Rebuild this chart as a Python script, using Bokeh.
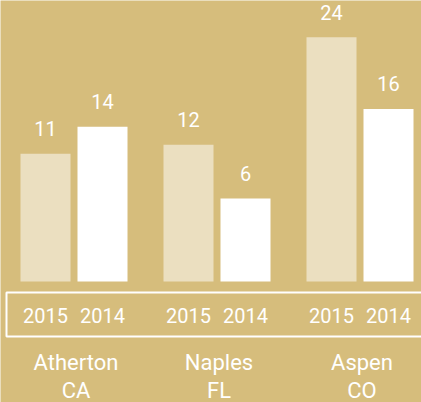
from bokeh.plotting import figure
from bokeh.models import Range1d
from bokeh.core.properties import value
from bokeh.embed import file_html
from bokeh.resources import INLINE

cities = ["Atherton", "Naples", "Aspen"]
states = ["CA", "FL", "CO"]
years = ["2015", "2014"]
values_2015 = [11, 12, 24]
values_2014 = [14, 6, 16]

BG = "#d6bd7c"
LIGHT = "#ebdfc0"
FONT = value("Roboto")

W, H = 421, 402
# vertical mapping: baseline pixel row and px per unit
BASE_PX = 281
K = 8.96
BASELINE = -3.26

def py(pix):
    """screen row (from top) -> data y"""
    return BASELINE - (pix - BASE_PX) / K

p = figure(width=W, height=H, output_backend="svg", toolbar_location=None,
           x_range=Range1d(0, W), y_range=Range1d(py(H), py(0)),
           min_border=0, background_fill_color=BG, border_fill_color=BG)
p.axis.visible = False
p.grid.visible = False
p.outline_line_color = None

centers = [73.5 + 143 * i for i in range(len(cities))]
x15 = [c - 28.5 for c in centers]
x14 = [c + 28.5 for c in centers]

p.vbar(x=x15, top=values_2015, bottom=BASELINE, width=50, fill_color=LIGHT, line_color=None)
p.vbar(x=x14, top=values_2014, bottom=BASELINE, width=50, fill_color="white", line_color=None)

lab_kw = dict(text_color="white", text_font=FONT, text_font_size="20px",
              text_align="center", text_baseline="middle")
p.text(x=x15, y=values_2015, text=[str(v) for v in values_2015], y_offset=-25, **lab_kw)
p.text(x=x14, y=values_2014, text=[str(v) for v in values_2014], y_offset=-25, **lab_kw)

# outlined band holding the year labels
p.quad(left=[6], right=[W + 10], top=[py(292)], bottom=[py(336)],
       fill_color=None, line_color="white", line_width=2)

p.text(x=x15, y=[py(314.5)] * len(cities), text=[years[0]] * len(cities), **lab_kw)
p.text(x=x14, y=[py(314.5)] * len(cities), text=[years[1]] * len(cities), **lab_kw)

city_kw = dict(text_color="white", text_font=FONT, text_font_size="22px",
               text_align="center", text_baseline="middle")
label_x = [c + 2 for c in centers]
p.text(x=label_x, y=[py(362)] * len(cities), text=cities, **city_kw)
p.text(x=label_x, y=[py(389.5)] * len(cities), text=states, **city_kw)

open("out.html", "w").write(file_html(p, INLINE))
